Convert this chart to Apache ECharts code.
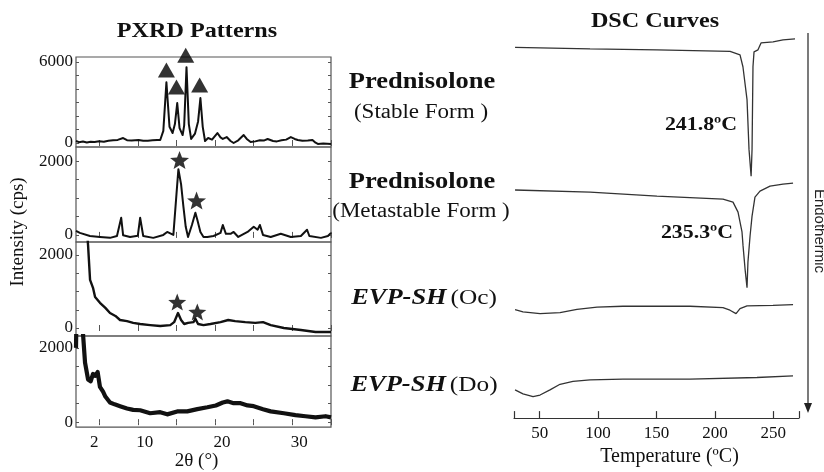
<!DOCTYPE html>
<html>
<head>
<meta charset="utf-8">
<script src="https://cdn.jsdelivr.net/npm/echarts@6/dist/echarts.min.js"></script>
<style>
  html, body { margin: 0; padding: 0; background: #fff; }
  #chart { width: 824px; height: 472px; }
</style>
</head>
<body>
<div id="chart"></div>
<script>
// PXRD patterns: 2θ (°) and intensity (cps)
const stableTheta = [2.0,2.4,2.9,3.4,3.9,4.4,5.0,5.6,6.2,6.8,7.4,8.1,8.6,9.2,10.1,10.7,11.3,11.9,12.5,12.9,13.3,13.7,14.1,14.5,14.8,15.1,15.4,15.8,16.0,16.3,16.6,16.9,17.4,17.8,18.1,18.4,18.7,19.1,19.6,20.3,20.7,21.0,21.5,22.0,22.4,23.0,23.7,24.1,24.6,25.2,25.8,26.3,26.8,27.5,28.0,28.6,29.2,29.8,30.3,30.7,31.3,32.0,32.6,33.0,33.3,34.0,35.0];
const stableCps = [150,60,110,40,90,70,130,100,170,200,230,370,210,180,230,160,170,200,230,220,900,4500,1200,740,1400,2960,1100,590,1300,5620,1400,300,700,1600,3330,1200,150,370,250,740,420,300,440,150,0,200,590,300,70,120,200,180,300,150,120,200,250,440,300,220,160,180,220,20,-70,-40,-70];

const metaTheta = [2.0,2.5,3.8,5.1,6.4,7.3,7.85,8.1,9.0,10.0,10.3,10.7,12.0,13.3,13.8,14.6,15.0,15.25,15.6,15.9,16.2,16.5,17.0,17.45,17.7,18.1,18.5,19.0,19.8,20.7,21.0,21.4,22.0,22.4,23.0,24.2,25.0,25.5,25.8,26.2,27.2,28.5,29.8,31.1,31.9,32.2,33.7,34.6,35.0];
const metaCps = [110,55,-30,-55,-80,-30,465,-10,-55,-20,465,-30,-80,0,80,0,1100,1780,1370,770,220,-55,270,600,410,80,-55,-55,-30,55,270,30,30,80,-55,80,220,140,270,0,-55,30,-55,-30,140,-30,-80,-30,55];

const ocTheta = [2.0,2.8,3.3,3.56,3.82,4.2,4.47,5.1,5.8,6.4,7.1,7.7,8.6,9.4,10.3,11.6,12.9,14.2,14.7,15.2,15.6,16.0,16.5,17.2,17.45,17.8,18.5,19.4,20.7,21.7,22.6,23.9,25.2,26.2,27.2,28.9,31.1,33.0,35.0];
const ocCps = [8000,4500,3000,2270,1320,1100,850,690,550,410,330,220,190,140,110,80,55,80,160,410,220,110,140,160,250,110,80,110,160,220,190,160,140,160,80,0,-55,-110,-110];

const doTheta = [2.0,2.05,2.6,2.9,3.17,3.56,3.9,4.2,4.5,4.8,5.1,5.5,5.8,6.4,7.0,7.7,8.6,9.4,10.3,11.6,12.9,13.8,15.1,16.4,17.7,19.0,20.1,21.0,21.6,22.4,23.3,24.2,25.0,26.2,27.2,28.9,30.4,31.7,33.0,34.3,35.0];
const doCps = [2000,2700,3500,2400,1600,1150,1100,1300,1250,1350,950,820,690,530,480,430,370,330,320,240,270,210,290,290,350,400,450,530,560,510,510,450,430,350,290,240,190,160,130,160,130];

// peak markers
const triangleTheta = [13.7, 15.0, 16.2, 18.0];
const triangleCps = [5400, 4150, 6500, 4300];
const metaStarTheta = [15.4, 17.6];
const metaStarCps = [2030, 930];
const ocStarTheta = [15.1, 17.7];
const ocStarCps = [710, 440];

// PXRD tick labels
const thetaLabels = [2, 10, 20, 30];
const thetaTicks = [5, 10, 15, 20, 25, 30, 35];

// DSC curves: temperature (°C) and heat flow (a.u., offset per sample)
const stableTemp = [28.9,93.1,150.4,213,221.5,224,227.5,229.2,231,231.8,232.6,233.5,236.9,239.5,249.8,258.3,268.6];
const stableHeat = [93.1,92.75,92.5,92.1,91.25,88.25,80,67.5,60.75,67.5,88.25,92,92.5,94.25,94.5,95,95.25];
const metaTemp = [28.9,93.1,150.4,206.9,215.5,219.8,223.2,224.1,225.8,227.5,228.3,230.1,231.8,234.3,238.6,247.2,258.3,266.9];
const metaHeat = [57.3,56.75,55.75,55,54.25,51.75,46.75,43.25,37.5,32.75,39.25,45.75,50.75,55.5,57,58.25,58.75,59];
const ocTemp = [28.9,35.7,50.3,67.4,81.9,99.1,121.3,178.7,206.9,212.9,218.1,221.5,227.5,249.7,266.9];
const ocHeat = [27.25,26.7,26.25,26.5,27.3,27.9,28.1,28.1,27.75,27.1,26.25,27.5,28.2,28.3,28.5];
const doTemp = [28.9,35.7,44.3,50.3,58.8,67.4,78.5,93.1,121.3,178.7,236,266.9];
const doHeat = [7.1,6.1,5.4,5.8,7.1,8.5,9.2,9.6,9.8,9.8,10.2,10.6];
const tempLabels = [50, 100, 150, 200, 250];

function zip(xs, ys) { return xs.map(function (x, i) { return [x, ys[i]]; }); }
function plain(v) { return String(v); }

const serif = '"Liberation Serif", "Times New Roman", serif';
const ink = '#111';

const panels = [
  { top: 57, height: 90, min: -296, max: 6370, labels: [0, 6000], ticks: [0, 1000, 2000, 3000, 4000, 5000, 6000], data: zip(stableTheta, stableCps), width: 2.0 },
  { top: 147, height: 95, min: -192, max: 2384, labels: [0, 2000], ticks: [0, 500, 1000, 1500, 2000], data: zip(metaTheta, metaCps), width: 2.0 },
  { top: 242, height: 94, min: -219, max: 2356, labels: [0, 2000], ticks: [0, 500, 1000, 1500, 2000], data: zip(ocTheta, ocCps), width: 2.4 },
  { top: 336, height: 92, min: -133, max: 2320, labels: [0, 2000], ticks: [0, 500, 1000, 1500, 2000], data: zip(doTheta, doCps), width: 4.2 },
];

const grid = [], xAxis = [], yAxis = [], series = [];
panels.forEach(function (p, i) {
  grid.push({ left: 76, width: 255, top: p.top, height: p.height, show: true, borderColor: '#555', borderWidth: 1.2, containLabel: false });
  const last = i === panels.length - 1;
  xAxis.push({
    gridIndex: i, type: 'value', min: 2, max: 35, position: 'bottom',
    axisLine: { show: false }, splitLine: { show: false },
    axisTick: { show: true, inside: true, length: 3, customValues: thetaTicks, lineStyle: { color: '#555' } },
    axisLabel: last ? {
      show: true, customValues: thetaLabels, fontFamily: serif, fontSize: 17, color: ink,
      margin: 7, padding: [0, 0, 0, 14], alignMinLabel: 'left', formatter: plain
    } : { show: false },
    name: last ? '2θ (°)' : '', nameLocation: 'middle', nameGap: 24,
    nameTextStyle: { fontFamily: serif, fontSize: 19, color: ink, padding: [0, 14, 0, 0] }
  });
  xAxis.push({
    gridIndex: i, type: 'value', min: 2, max: 35, position: 'top',
    axisLine: { show: false }, splitLine: { show: false }, axisLabel: { show: false },
    axisTick: { show: true, inside: true, length: 3, customValues: thetaTicks, lineStyle: { color: '#555' } }
  });
  yAxis.push({
    gridIndex: i, type: 'value', min: p.min, max: p.max, position: 'left',
    axisLine: { show: false }, splitLine: { show: false },
    axisTick: { show: true, inside: true, length: 3, customValues: p.ticks, lineStyle: { color: '#555' } },
    axisLabel: { customValues: p.labels, fontFamily: serif, fontSize: 17, color: ink, margin: 3, formatter: plain }
  });
  yAxis.push({
    gridIndex: i, type: 'value', min: p.min, max: p.max, position: 'right',
    axisLine: { show: false }, splitLine: { show: false }, axisLabel: { show: false },
    axisTick: { show: true, inside: true, length: 3, customValues: p.ticks, lineStyle: { color: '#555' } }
  });
  series.push({
    type: 'line', xAxisIndex: i * 2, yAxisIndex: i * 2, data: p.data,
    showSymbol: false, symbol: 'none', silent: true,
    lineStyle: { color: ink, width: p.width, join: 'round' }
  });
});

const starPath = 'path://M12,1 L14.9,8.6 L23,9 L16.7,14.1 L18.9,22 L12,17.5 L5.1,22 L7.3,14.1 L1,9 L9.1,8.6 Z';
function markers(idx, data, symbol, size) {
  return {
    type: 'scatter', xAxisIndex: idx * 2, yAxisIndex: idx * 2, data: data, clip: false,
    symbol: symbol, symbolSize: size, silent: true, z: 5,
    itemStyle: { color: '#000', borderWidth: 0 }
  };
}
series.push(markers(0, zip(triangleTheta, triangleCps), 'triangle', [17, 15]));
series.push(markers(1, zip(metaStarTheta, metaStarCps), starPath, [19, 18]));
series.push(markers(2, zip(ocStarTheta, ocStarCps), starPath, [18, 17]));

// DSC panel
grid.push({ left: 514, width: 285, top: 20, height: 400, show: false });
xAxis.push({
  gridIndex: 4, type: 'value', min: 28, max: 272, position: 'bottom',
  axisLine: { show: true, lineStyle: { color: '#333', width: 1.2 } }, splitLine: { show: false },
  axisTick: { show: true, inside: true, length: 7, customValues: [28].concat(tempLabels, [272]), lineStyle: { color: '#333', width: 1.2 } },
  axisLabel: { customValues: tempLabels, fontFamily: serif, fontSize: 17, color: ink, margin: 7 },
  name: 'Temperature (ºC)', nameLocation: 'middle', nameGap: 23,
  nameTextStyle: { fontFamily: serif, fontSize: 20, color: ink, padding: [0, 0, 0, 26] }
});
yAxis.push({ gridIndex: 4, type: 'value', min: 0, max: 100, show: false });
[zip(stableTemp, stableHeat), zip(metaTemp, metaHeat), zip(ocTemp, ocHeat), zip(doTemp, doHeat)].forEach(function (d) {
  series.push({
    type: 'line', xAxisIndex: xAxis.length - 1, yAxisIndex: yAxis.length - 1, data: d,
    showSymbol: false, symbol: 'none', silent: true,
    lineStyle: { color: '#333', width: 1.3 }
  });
});

function label(x, y, text, size, weight) {
  return {
    type: 'text', x: x, y: y, scaleX: 1.15, silent: true,
    style: { text: text, fill: ink, fontFamily: serif, fontSize: size, fontWeight: weight || 'normal', align: 'center', verticalAlign: 'middle' }
  };
}
function evpLabel(y, tag) {
  return {
    type: 'text', x: 424, y: y, scaleX: 1.15, silent: true,
    style: {
      text: '{b|EVP-SH} {n|(' + tag + ')}', fill: ink, align: 'center', verticalAlign: 'middle',
      rich: {
        b: { fontFamily: serif, fontSize: 23, fontWeight: 'bold', fontStyle: 'italic', fill: ink },
        n: { fontFamily: serif, fontSize: 22, fill: ink }
      }
    }
  };
}

const graphic = [
  label(197, 32, 'PXRD Patterns', 21, 'bold'),
  label(655, 22, 'DSC Curves', 21, 'bold'),
  label(422, 82, 'Prednisolone', 23, 'bold'),
  label(421, 113, '(Stable Form )', 20),
  label(422, 182, 'Prednisolone', 23, 'bold'),
  label(421, 212, '(Metastable Form )', 20),
  evpLabel(298, 'Oc'),
  evpLabel(385, 'Do'),
  label(701, 125, '241.8ºC', 19, 'bold'),
  label(697, 233, '235.3ºC', 19, 'bold'),
  {
    type: 'text', x: 18, y: 232, rotation: Math.PI / 2, silent: true,
    style: { text: 'Intensity (cps)', fill: ink, fontFamily: serif, fontSize: 19, align: 'center', verticalAlign: 'middle' }
  },
  {
    type: 'text', x: 819, y: 231, rotation: -Math.PI / 2, silent: true,
    style: { text: 'Endothermic', fill: '#222', fontFamily: '"Liberation Sans", Arial, sans-serif', fontSize: 15, align: 'center', verticalAlign: 'middle' }
  },
  { type: 'line', silent: true, shape: { x1: 808, y1: 33, x2: 808, y2: 405 }, style: { stroke: '#333', lineWidth: 1.3 } },
  { type: 'polygon', silent: true, shape: { points: [[804, 403], [812, 403], [808, 413]] }, style: { fill: '#222' } }
];

const chart = echarts.init(document.getElementById('chart'), null, { renderer: 'canvas' });
chart.setOption({
  animation: false,
  backgroundColor: '#fff',
  grid: grid,
  xAxis: xAxis,
  yAxis: yAxis,
  series: series,
  graphic: graphic
});
</script>
</body>
</html>
